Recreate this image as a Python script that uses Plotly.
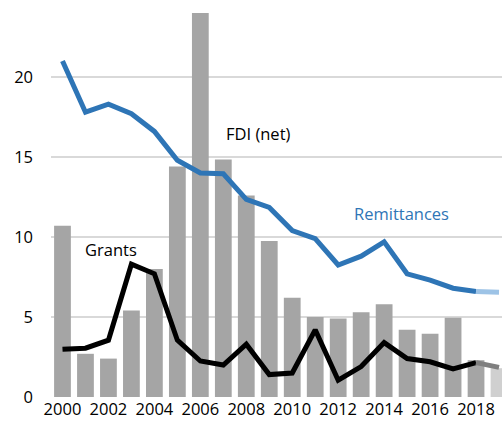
import plotly.graph_objects as go

years = list(range(2000, 2020))
fdi = [10.7, 2.7, 2.4, 5.4, 8.0, 14.4, 24.5, 14.85, 12.6, 9.75,
       6.2, 5.0, 4.9, 5.3, 5.8, 4.2, 3.95, 4.95, 2.3, 1.8]
remittances = [21.0, 17.8, 18.3, 17.7, 16.6, 14.8, 14.0, 13.95, 12.35, 11.85,
               10.4, 9.9, 8.25, 8.8, 9.7, 7.7, 7.3, 6.8, 6.6, 6.55]
grants = [2.98, 3.05, 3.55, 8.3, 7.7, 3.55, 2.25, 2.0, 3.3, 1.4,
          1.5, 4.2, 1.05, 1.9, 3.4, 2.4, 2.2, 1.75, 2.15, 1.85]
tick_years = list(range(2000, 2019, 2))

bar_colors = ["#A5A5A5"] * 19 + ["#D0D0D0"]

fig = go.Figure()
fig.add_trace(go.Bar(x=years, y=fdi, marker=dict(color=bar_colors, line_width=0),
                     width=0.73, showlegend=False))
fig.add_trace(go.Scatter(x=years[:19], y=remittances[:19], mode="lines",
                         line=dict(color="#2E75B6", width=5), showlegend=False))
fig.add_trace(go.Scatter(x=years[18:], y=remittances[18:], mode="lines",
                         line=dict(color="#9DC3E6", width=5), showlegend=False))
fig.add_trace(go.Scatter(x=years[:19], y=grants[:19], mode="lines",
                         line=dict(color="#000000", width=5), showlegend=False))
fig.add_trace(go.Scatter(x=years[18:], y=grants[18:], mode="lines",
                         line=dict(color="#7F7F7F", width=5), showlegend=False))

font_family = "Open Sans, Noto Sans, sans-serif"
fig.add_annotation(x=2008.54, y=16.5, text="FDI (net)", showarrow=False,
                   font=dict(family=font_family, size=16.5, color="#000000"))
fig.add_annotation(x=2002.1, y=9.25, text="Grants", showarrow=False,
                   font=dict(family=font_family, size=16.5, color="#000000"))
fig.add_annotation(x=2014.76, y=11.5, text="Remittances", showarrow=False,
                   font=dict(family=font_family, size=16.5, color="#2E75B6"))

fig.update_layout(
    width=502, height=431,
    margin=dict(l=51, r=0, t=13, b=34),
    plot_bgcolor="white", paper_bgcolor="white",
    font=dict(family=font_family, size=16.5, color="#000000"),
    bargap=0.27,
    xaxis=dict(range=[1999.5, 2019.13], tickmode="array", tickvals=tick_years,
               ticktext=[str(y) for y in tick_years], showgrid=False,
               zeroline=False, showline=False, ticks="", tickfont=dict(size=16.5)),
    yaxis=dict(range=[0, 24], tickmode="array", tickvals=[0, 5, 10, 15, 20],
               showgrid=True, gridcolor="#D9D9D9", gridwidth=1.5,
               zeroline=False, showline=False, ticks="", ticklabelstandoff=17,
               tickfont=dict(size=16.5)),
)

fig.write_html("out.html", config={"displayModeBar": False},
               post_script="document.body.style.margin='0';document.body.style.padding='0';")
